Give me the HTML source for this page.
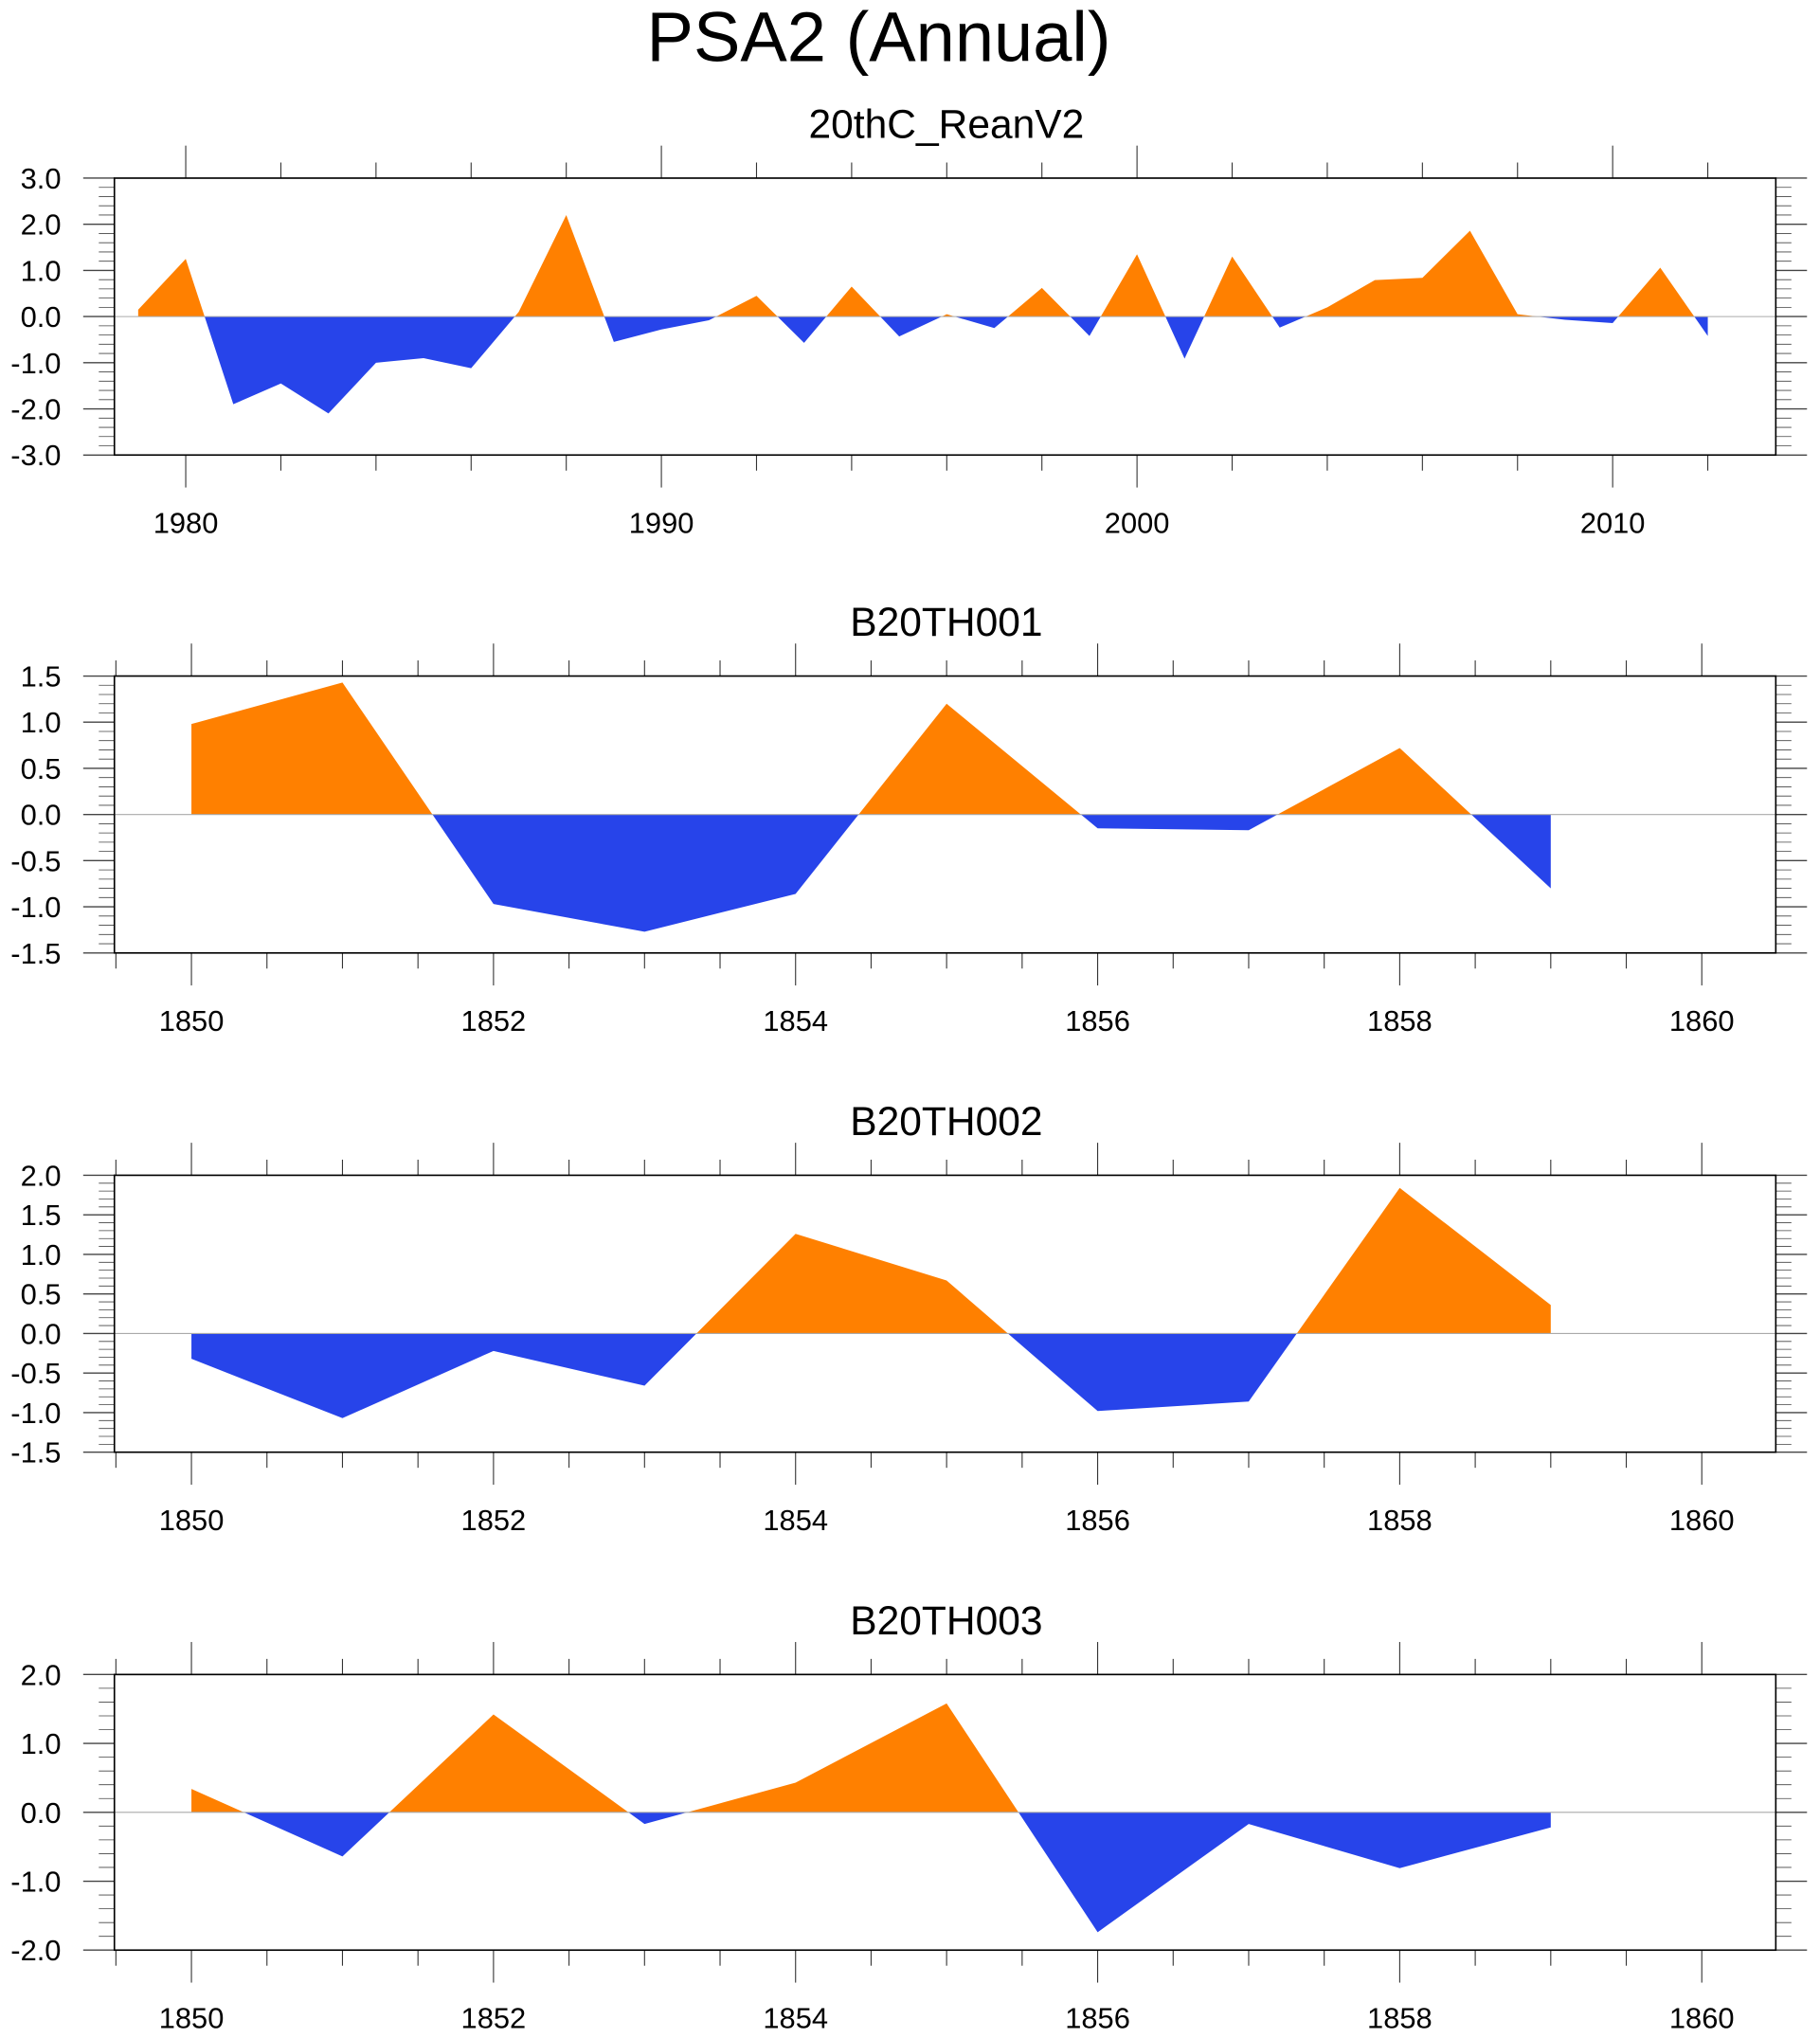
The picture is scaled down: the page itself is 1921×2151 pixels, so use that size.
<!DOCTYPE html>
<html><head><meta charset="utf-8"><style>
html,body{margin:0;padding:0;background:#fff;}
svg{display:block;}
text{font-family:"Liberation Sans",sans-serif;fill:#000;}
</style></head>
<body>
<svg id="fig" width="1921" height="2151" viewBox="0 0 1400 1567.6" preserveAspectRatio="none" xmlns="http://www.w3.org/2000/svg">
<text x="676" y="47" font-size="54" text-anchor="middle">PSA2 (Annual)</text>
</svg>
<script>
// Panel 1 data
const years1 = [1979,1980,1981,1982,1983,1984,1985,1986,1987,1988,1989,1990,1991,1992,1993,1994,1995,1996,1997,1998,1999,2000,2001,2002,2003,2004,2005,2006,2007,2008,2009,2010,2011,2012];
const values1 = [0.15,1.25,-1.9,-1.45,-2.1,-1.0,-0.9,-1.12,0.1,2.2,-0.55,-0.28,-0.08,0.45,-0.57,0.65,-0.43,0.05,-0.25,0.62,-0.42,1.35,-0.91,1.3,-0.24,0.2,0.79,0.84,1.86,0.05,-0.07,-0.14,1.06,-0.42];
const xTicks1 = [1980,1990,2000,2010];
const yTicks1 = [3.0,2.0,1.0,0.0,-1.0,-2.0,-3.0];
// Model panels data
const yearsM = [1850,1851,1852,1853,1854,1855,1856,1857,1858,1859];
const values2 = [0.98,1.43,-0.97,-1.27,-0.86,1.2,-0.15,-0.17,0.72,-0.8];
const values3 = [-0.32,-1.07,-0.22,-0.66,1.26,0.67,-0.98,-0.86,1.84,0.36];
const values4 = [0.34,-0.64,1.42,-0.17,0.43,1.58,-1.74,-0.17,-0.81,-0.22];
const xTicksM = [1850,1852,1854,1856,1858,1860];
const yTicks2 = [1.5,1.0,0.5,0.0,-0.5,-1.0,-1.5];
const yTicks3 = [2.0,1.5,1.0,0.5,0.0,-0.5,-1.0,-1.5];
const yTicks4 = [2.0,1.0,0.0,-1.0,-2.0];

const NS='http://www.w3.org/2000/svg';
const svg=document.getElementById('fig');
function mk(tag,attrs,parent){const e=document.createElementNS(NS,tag);for(const k in attrs)e.setAttribute(k,attrs[k]);(parent||svg).appendChild(e);return e;}

function panel(id,title,top,bottom,xmin,xmax,xs,vs,xticks,minorStep,yticks,ymin,ymax,yminor){
  const L=88,R=1366;
  const g=mk('g',{});
  
  
  const X=v=>L+(v-xmin)/(xmax-xmin)*(R-L);
  const Y=v=>bottom-(v-ymin)/(ymax-ymin)*(bottom-top);
  const t=mk('text',{x:728,y:top-31,'font-size':31,'text-anchor':'middle'},g);
  t.textContent=title;
  
  
  const y0=Y(0);
  let d='M'+X(xs[0])+','+y0;
  xs.forEach((x,i)=>{d+=' L'+X(x)+','+Y(vs[i]);});
  d+=' L'+X(xs[xs.length-1])+','+y0+' Z';
  const defs=mk('defs',{},g);
  const ca=mk('clipPath',{id:id+'-above'},defs);
  mk('rect',{x:L,y:top,width:R-L,height:y0-top},ca);
  const cb=mk('clipPath',{id:id+'-below'},defs);
  mk('rect',{x:L,y:y0,width:R-L,height:bottom-y0},cb);
  const pa=mk('path',{d:d,fill:'#ff8000','clip-path':'url(#'+id+'-above)'},g);
  
  
  const pb=mk('path',{d:d,fill:'#2744ea','clip-path':'url(#'+id+'-below)'},g);
  
  
  const zl=mk('line',{x1:L,x2:R,y1:y0,y2:y0,stroke:'#aaa','stroke-width':0.8},g);
  
  
  // x ticks aligned to first major
  let start=xticks[0];
  while(start-minorStep>=xmin) start-=minorStep;
  for(let v=start;v<=xmax+1e-9;v+=minorStep){
    const isMaj=xticks.some(q=>Math.abs(q-v)<1e-6);
    const len=isMaj?25:12;
    mk('line',{x1:X(v),x2:X(v),y1:top,y2:top-len,stroke:'#333','stroke-width':0.8},g);
    mk('line',{x1:X(v),x2:X(v),y1:bottom,y2:bottom+len,stroke:'#333','stroke-width':0.8},g);
  }
  xticks.forEach(v=>{
    const tl=mk('text',{x:X(v),y:bottom+60,'font-size':22.5,'text-anchor':'middle'},g);
    tl.textContent=v;
    
    
  });
  const n=Math.round((ymax-ymin)/yminor);
  for(let i=0;i<=n;i++){
    const v=ymin+i*yminor;
    const isMaj=yticks.some(q=>Math.abs(q-v)<1e-6);
    const len=isMaj?24:12;
    mk('line',{x1:L,x2:L-len,y1:Y(v),y2:Y(v),stroke:'#444','stroke-width':isMaj?1:0.6},g);
    mk('line',{x1:R,x2:R+len,y1:Y(v),y2:Y(v),stroke:'#444','stroke-width':isMaj?1:0.6},g);
  }
  yticks.forEach(v=>{
    const tl=mk('text',{x:47,y:Y(v)+8,'font-size':22.5,'text-anchor':'end'},g);
    tl.textContent=v.toFixed(1);
    
    
  });
  const fr=mk('rect',{x:L,y:top,width:R-L,height:bottom-top,fill:'none',stroke:'#000','stroke-width':1.2},g);
  
  
}
panel('reanv2','20thC_ReanV2',137,350,1978.5,2013.43,years1,values1,xTicks1,2,yTicks1,-3,3,0.2);
panel('b20th001','B20TH001',520,733,1849.49,1860.49,yearsM,values2,xTicksM,0.5,yTicks2,-1.5,1.5,0.1);
panel('b20th002','B20TH002',904,1117,1849.49,1860.49,yearsM,values3,xTicksM,0.5,yTicks3,-1.5,2.0,0.1);
panel('b20th003','B20TH003',1288,1500,1849.49,1860.49,yearsM,values4,xTicksM,0.5,yTicks4,-2,2,0.2);
</script>
</body></html>
